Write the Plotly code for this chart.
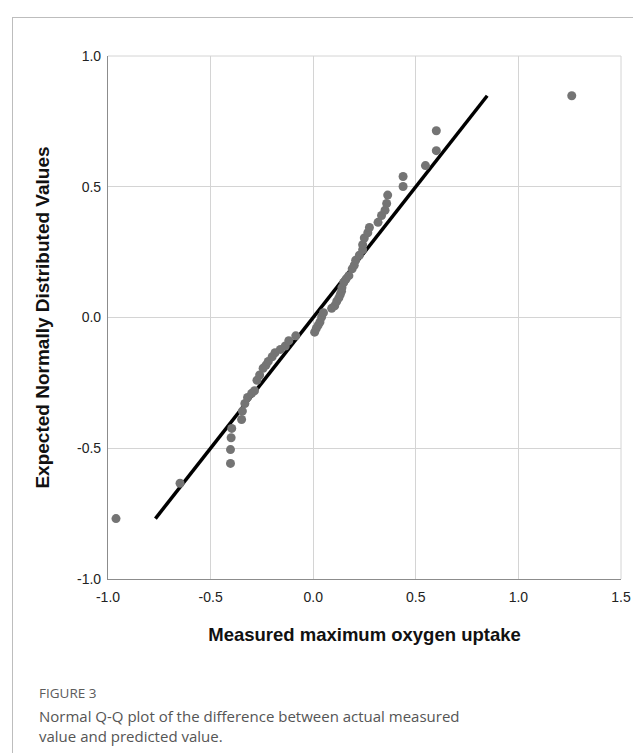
import plotly.graph_objects as go

observed = [-0.961, -0.649, -0.403, -0.403, -0.400, -0.397, -0.349, -0.345, -0.333, -0.320,
            -0.300, -0.286, -0.274, -0.261, -0.244, -0.230, -0.219, -0.200, -0.186, -0.160,
            -0.136, -0.119, -0.085, 0.007, 0.015, 0.024, 0.033, 0.041, 0.050, 0.090,
            0.105, 0.115, 0.125, 0.132, 0.138, 0.140, 0.149, 0.160, 0.174, 0.190,
            0.200, 0.207, 0.225, 0.241, 0.241, 0.249, 0.266, 0.274, 0.316, 0.333,
            0.350, 0.358, 0.363, 0.438, 0.438, 0.547, 0.600, 0.600, 1.260]
expected = [-0.769, -0.634, -0.558, -0.505, -0.460, -0.424, -0.390, -0.358, -0.329, -0.306,
            -0.290, -0.280, -0.240, -0.220, -0.194, -0.182, -0.168, -0.150, -0.135, -0.122,
            -0.109, -0.089, -0.070, -0.056, -0.042, -0.030, -0.017, 0.002, 0.018, 0.035,
            0.045, 0.062, 0.075, 0.088, 0.100, 0.114, 0.134, 0.147, 0.160, 0.186,
            0.200, 0.219, 0.238, 0.259, 0.278, 0.304, 0.324, 0.344, 0.364, 0.390,
            0.410, 0.436, 0.468, 0.501, 0.539, 0.581, 0.638, 0.714, 0.848]

tick_vals = [-1.0, -0.5, 0.0, 0.5, 1.0, 1.5]
x_tick_text = ["-1.0", "-0.5", "0.0", "0.5", "1.0", "1.5"]
y_tick_vals = [-1.0, -0.5, 0.0, 0.5, 1.0]
y_tick_text = ["-1.0", "-0.5", "0.0", "0.5", "1.0"]

W, H = 641, 753
L, R, T, B = 100, 613, 48, 571  # plot area in pixels


def px(X):
    return (X - L) / (R - L)


def py(Y):
    return (B - Y) / (B - T)


fig = go.Figure()

ref_line = [min(expected), max(expected)]
fig.add_trace(go.Scatter(x=ref_line, y=ref_line, mode="lines",
                         line=dict(color="black", width=3.5), hoverinfo="skip"))
fig.add_trace(go.Scatter(x=observed, y=expected, mode="markers",
                         marker=dict(color="#747474", size=9, line=dict(width=0))))

axis_font = dict(family="Liberation Sans, Arial, sans-serif", size=14, color="#222")
title_font = dict(family="Liberation Sans, Arial, sans-serif", size=18.5, color="#111")
fig.update_xaxes(range=[-1.0, 1.5], tickvals=tick_vals, ticktext=x_tick_text,
                 showgrid=True, gridcolor="#d4d4d4", gridwidth=1, zeroline=False,
                 showline=True, linecolor="#8c8c8c", linewidth=1.2,
                 ticks="", tickfont=axis_font, ticklabelstandoff=5,
                 title=dict(text="<b>Measured maximum oxygen uptake</b>",
                            font=title_font, standoff=24))
fig.update_yaxes(range=[-1.0, 1.0], tickvals=y_tick_vals, ticktext=y_tick_text,
                 showgrid=True, gridcolor="#d4d4d4", gridwidth=1, zeroline=False,
                 showline=True, linecolor="#8c8c8c", linewidth=1.2,
                 ticks="", tickfont=axis_font, ticklabelstandoff=3,
                 title=dict(text="<b>Expected Normally Distributed Values</b>",
                            font=dict(family="Liberation Sans, Arial, sans-serif", size=19, color="#111"),
                            standoff=22))

shapes = [
    # top and right border of the plot frame
    dict(type="line", xref="paper", yref="paper", x0=0, x1=1, y0=1, y1=1,
         line=dict(color="#d4d4d4", width=1)),
    dict(type="line", xref="paper", yref="paper", x0=1, x1=1, y0=0, y1=1,
         line=dict(color="#d4d4d4", width=1)),
    # outer figure frame (top and left)
    dict(type="line", xref="paper", yref="paper", x0=px(4), x1=px(641), y0=py(9.5), y1=py(9.5),
         line=dict(color="#bdbdbd", width=1)),
    dict(type="line", xref="paper", yref="paper", x0=px(4.5), x1=px(4.5), y0=py(9.5), y1=py(753),
         line=dict(color="#bdbdbd", width=1)),
]

annotations = [
    dict(text="FIGURE 3", xref="paper", yref="paper", x=px(29), y=py(685),
         xanchor="left", yanchor="middle", showarrow=False,
         font=dict(family="Open Sans, sans-serif", size=13.5, color="#5c5c5c")),
    dict(text="Normal Q-Q plot of the difference between actual measured<br>value and predicted value.",
         xref="paper", yref="paper", x=px(29), y=py(696),
         xanchor="left", yanchor="top", align="left", showarrow=False,
         font=dict(family="Open Sans, sans-serif", size=15, color="#555555")),
]

fig.update_layout(width=W, height=H, margin=dict(l=L, r=W - R, t=T, b=H - B),
                  paper_bgcolor="white", plot_bgcolor="white", showlegend=False,
                  shapes=shapes, annotations=annotations)

fig.write_html("out.html")
